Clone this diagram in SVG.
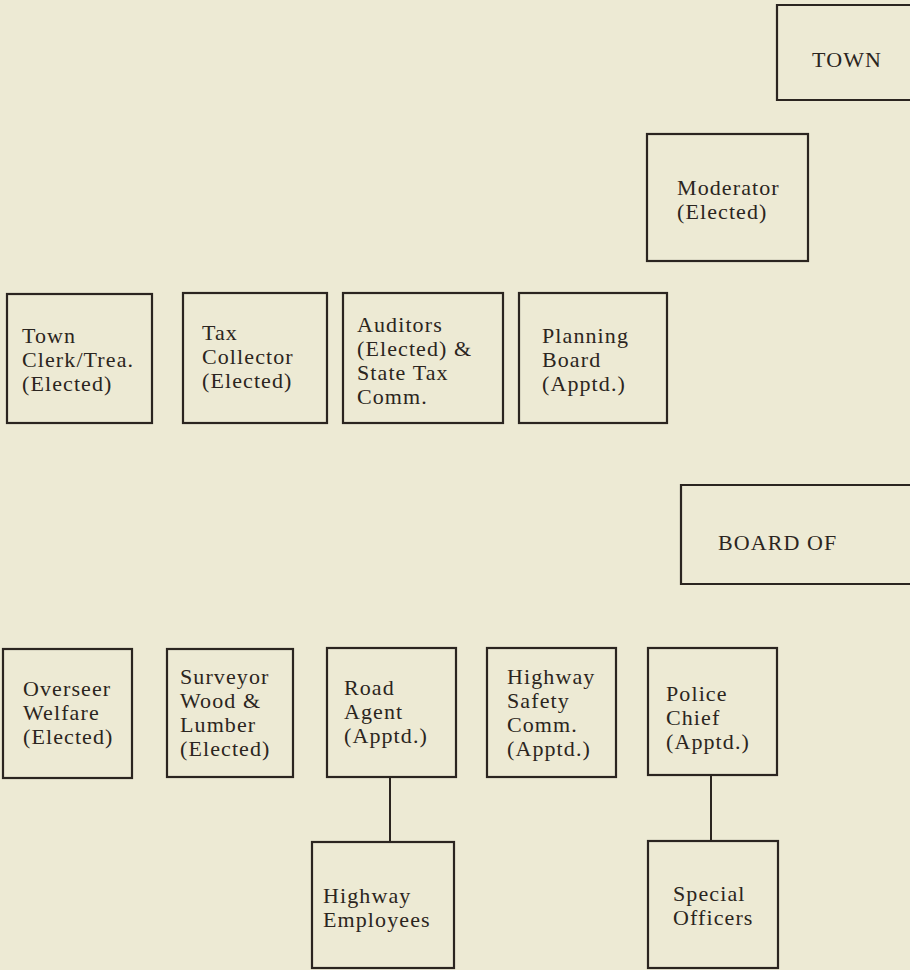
<svg xmlns="http://www.w3.org/2000/svg" width="910" height="970" viewBox="0 0 910 970">
<style>
.bg{fill:#EDEAD4}
.box{fill:none;stroke:#2b2520;stroke-width:2.2}
.ln{fill:none;stroke:#2b2520;stroke-width:2}
text{font-family:"Liberation Serif","Times New Roman",serif;font-size:22px;letter-spacing:1.1px;fill:#2b2520}
</style>
<rect class="bg" x="0" y="0" width="910" height="970"/>
<g id="town"><path class="box" d="M910,5 H777 V100 H910"/><text x="812" y="67">TOWN</text></g>
<g id="moderator"><rect class="box" x="647" y="134" width="161" height="127"/><text x="677" y="195">Moderator</text><text x="677" y="219">(Elected)</text></g>
<g id="clerk"><rect class="box" x="7" y="294" width="145" height="129"/><text x="22" y="343">Town</text><text x="22" y="367">Clerk/Trea.</text><text x="22" y="391">(Elected)</text></g>
<g id="tax"><rect class="box" x="183" y="293" width="144" height="130"/><text x="202" y="340">Tax</text><text x="202" y="364">Collector</text><text x="202" y="388">(Elected)</text></g>
<g id="auditors"><rect class="box" x="343" y="293" width="160" height="130"/><text x="357" y="332">Auditors</text><text x="357" y="356">(Elected) &amp;</text><text x="357" y="380">State Tax</text><text x="357" y="404">Comm.</text></g>
<g id="planning"><rect class="box" x="519" y="293" width="148" height="130"/><text x="542" y="343">Planning</text><text x="542" y="367">Board</text><text x="542" y="391">(Apptd.)</text></g>
<g id="board"><path class="box" d="M910,485 H681 V584 H910"/><text x="718" y="550">BOARD OF</text></g>
<g id="overseer"><rect class="box" x="3" y="649" width="129" height="129"/><text x="23" y="696">Overseer</text><text x="23" y="720">Welfare</text><text x="23" y="744">(Elected)</text></g>
<g id="surveyor"><rect class="box" x="167" y="649" width="126" height="128"/><text x="180" y="684">Surveyor</text><text x="180" y="708">Wood &amp;</text><text x="180" y="732">Lumber</text><text x="180" y="756">(Elected)</text></g>
<g id="road"><rect class="box" x="327" y="648" width="129" height="129"/><text x="344" y="695">Road</text><text x="344" y="719">Agent</text><text x="344" y="743">(Apptd.)</text></g>
<g id="safety"><rect class="box" x="487" y="648" width="129" height="129"/><text x="507" y="684">Highway</text><text x="507" y="708">Safety</text><text x="507" y="732">Comm.</text><text x="507" y="756">(Apptd.)</text></g>
<g id="police"><rect class="box" x="648" y="648" width="129" height="127"/><text x="666" y="701">Police</text><text x="666" y="725">Chief</text><text x="666" y="749">(Apptd.)</text></g>
<g id="employees"><rect class="box" x="312" y="842" width="142" height="126"/><text x="323" y="903">Highway</text><text x="323" y="927">Employees</text></g>
<g id="officers"><rect class="box" x="648" y="841" width="130" height="127"/><text x="673" y="901">Special</text><text x="673" y="925">Officers</text></g>
<g id="connectors"><path class="ln" d="M390,777 V842"/><path class="ln" d="M711,775 V841"/></g>
</svg>
